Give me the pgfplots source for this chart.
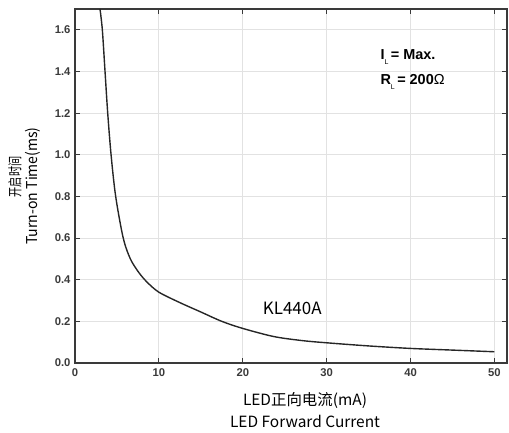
\documentclass[border=0pt]{standalone}
\usepackage{graphicx}
\usepackage{pgfplots}
\pgfplotsset{compat=1.18}
\usepackage{fontspec}
\setmainfont{Liberation Sans}
\newfontfamily\cjk{Noto Sans CJK SC}
\definecolor{frame}{HTML}{3A3A3A}
\definecolor{gridc}{HTML}{E2E2E2}
\begin{document}
\begin{tikzpicture}
\begin{axis}[
  scale only axis,
  width=432bp, height=354bp,
  xmin=0, xmax=51.5, ymin=0, ymax=1.7,
  xtick={0,10,20,30,40,50},
  ytick={0,0.2,0.4,0.6,0.8,1.0,1.2,1.4,1.6},
  tick align=inside,
  major tick length=5bp,
  tick style={frame, line width=1.1pt},
  axis line style={frame, line width=1.3pt},
  grid=major,
  major grid style={gridc, line width=0.8pt},
  /pgf/number format/assume math mode=true,
  yticklabel style={/pgf/number format/fixed, /pgf/number format/fixed zerofill, /pgf/number format/precision=1, font=\fontsize{11.3}{13}\selectfont\bfseries, text=frame, xshift=-1bp},
  xticklabel style={font=\fontsize{11.3}{13}\selectfont\bfseries, text=frame, yshift=-2bp},
  clip=false,
]
\addplot[black!85, line width=1.4pt, smooth, tension=0.5] coordinates {
(2.98,1.70) (3.26,1.6) (3.58,1.4) (3.90,1.2) (4.30,1.0) (4.85,0.8) (5.75,0.6) (6.6,0.50) (7.6,0.435) (8.6,0.388) (10,0.34) (12.5,0.29) (15,0.245) (17.5,0.20) (20,0.166) (23.7,0.127) (27,0.108) (30,0.097) (35,0.082) (40,0.070) (45,0.062) (50,0.054)
};
\coordinate (O) at (rel axis cs:0,0);
\node[anchor=center, font=\cjk\fontsize{17}{19}\selectfont] at (axis cs:25.9,0.262) {KL440A};
\node[anchor=west, font=\fontsize{14.5}{16}\selectfont\bfseries, inner sep=0pt] at (axis cs:36.4,1.47) {I\raisebox{-4.5pt}{\mdseries\fontsize{7}{8}\selectfont L}\,= Max.};
\node[anchor=west, font=\fontsize{14.5}{16}\selectfont\bfseries, inner sep=0pt] at (axis cs:36.4,1.35) {R\raisebox{-4.5pt}{\mdseries\fontsize{7}{8}\selectfont L}\,= 200\textmd{Ω}};
\end{axis}
\node[font=\cjk\fontsize{15.5}{17}\selectfont] at ([shift={(230bp,-38bp)}]O) {LED正向电流(mA)};
\node[font=\cjk\fontsize{15.5}{17}\selectfont] at ([shift={(230bp,-58bp)}]O) {LED Forward Current};
\node[font=\cjk\fontsize{14.5}{16}\selectfont, rotate=90] at ([shift={(-60bp,186bp)}]O) {\scalebox{0.7}[1]{开启时间}};
\node[font=\cjk\fontsize{15}{17}\selectfont, rotate=90] at ([shift={(-42bp,177bp)}]O) {\scalebox{0.94}[1]{Turn-on Time(ms)}};
\pgfresetboundingbox
\path[use as bounding box] ([shift={(-75bp,-70bp)}]O) rectangle ++(509bp,433bp);
\end{tikzpicture}
\end{document}
